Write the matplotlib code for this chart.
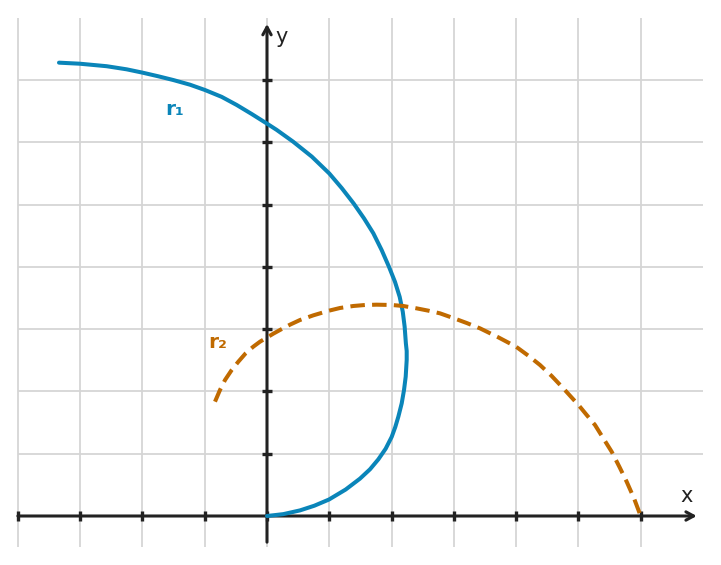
import matplotlib
matplotlib.use("Agg")
import matplotlib.pyplot as plt

# Kurve r1 (durchgezogen)
r1_x = [-3.34, -3.003, -2.574, -2.253, -1.996, -1.745, -1.504, -1.236, -0.996,
        -0.728, -0.487, -0.246, 0.0, 0.155, 0.42, 0.72, 1.0, 1.2, 1.39, 1.557,
        1.707, 1.841, 1.959, 2.055, 2.13, 2.18, 2.21, 2.23, 2.243, 2.243, 2.227,
        2.20, 2.163, 2.109, 2.06, 2.002, 1.905, 1.788, 1.654, 1.493, 1.263,
        0.996, 0.76, 0.53, 0.262, 0.0]
r1_y = [7.279, 7.262, 7.222, 7.172, 7.118, 7.06, 7.0, 6.925, 6.84,
        6.73, 6.60, 6.455, 6.30, 6.20, 6.01, 5.77, 5.50, 5.265, 5.02, 4.78,
        4.54, 4.27, 4.00, 3.76, 3.52, 3.28, 3.04, 2.77, 2.65, 2.505, 2.237,
        2.023, 1.809, 1.595, 1.43, 1.27, 1.08, 0.91, 0.75, 0.60, 0.425,
        0.265, 0.165, 0.09, 0.03, 0.0]

# Kurve r2 (gestrichelt)
r2_x = [-0.835, -0.755, -0.674, -0.567, -0.46, -0.343, -0.22, -0.112, -0.005,
        0.102, 0.209, 0.369, 0.53, 0.744, 0.996, 1.172, 1.386, 1.574, 1.761,
        2.002, 2.189, 2.403, 2.59, 2.778, 3.003, 3.206, 3.42, 3.714, 3.998,
        4.196, 4.383, 4.571, 4.758, 5.01, 5.133, 5.267, 5.40, 5.534, 5.657,
        5.775, 5.893, 6.0]
r2_y = [1.836, 2.023, 2.184, 2.344, 2.478, 2.612, 2.719, 2.799, 2.863,
        2.928, 2.987, 3.072, 3.147, 3.222, 3.297, 3.340, 3.372, 3.388, 3.393,
        3.388, 3.372, 3.334, 3.297, 3.254, 3.174, 3.099, 3.013, 2.869, 2.719,
        2.574, 2.425, 2.248, 2.050, 1.772, 1.622, 1.461, 1.247, 1.033, 0.792,
        0.551, 0.284, 0.0]

x_ticks = list(range(-4, 7))
y_ticks = list(range(1, 8))

blau = "#0a85b9"
orange = "#c06a00"
dunkel = "#222222"

fig = plt.figure(figsize=(7.21, 5.65), dpi=100)
ax = fig.add_axes([0, 0, 1, 1])
s = 62.28
ax.set_xlim(-267 / s, (721 - 267) / s)
ax.set_ylim((516 - 565) / s, 516 / s)
ax.axis("off")

# Gitter
ax.vlines(x_ticks, -0.5, 8.0, colors="#d5d5d5", lw=1.3, zorder=1)
ax.hlines(y_ticks, -4, 7, colors="#d5d5d5", lw=1.3, zorder=1)

# Achsen mit Pfeilen
pfeil = dict(arrowstyle="->,head_length=0.55,head_width=0.3", lw=2.2,
             color=dunkel, shrinkA=0, shrinkB=0)
ax.annotate("", xy=(6.9, 0), xytext=(-4, 0), arrowprops=pfeil, zorder=2)
ax.annotate("", xy=(0, 7.9), xytext=(0, -0.42), arrowprops=pfeil, zorder=2)

# Teilstriche
ax.plot(x_ticks, [0] * len(x_ticks), ls="none", marker="|", ms=6.5, mew=2.4,
        color=dunkel, zorder=2)
ax.plot([0] * len(y_ticks), y_ticks, ls="none", marker="_", ms=6.5, mew=2.4,
        color=dunkel, zorder=2)

# Kurven
ax.plot(r1_x, r1_y, color=blau, lw=2.9, solid_capstyle="round",
        solid_joinstyle="round", zorder=3)
ax.plot(r2_x, r2_y, color=orange, lw=2.9, dashes=(3.6, 1.8),
        dash_capstyle="butt", zorder=4)

# Beschriftungen
ax.text(-1.49, 6.52, "r₁", color=blau, fontsize=14.5, fontweight="bold",
        ha="center", va="center")
ax.text(-0.79, 2.78, "r₂", color=orange, fontsize=14.5, fontweight="bold",
        ha="center", va="center")
ax.text(6.74, 0.32, "x", color=dunkel, fontsize=15, ha="center", va="center")
ax.text(0.24, 7.69, "y", color=dunkel, fontsize=15, ha="center", va="center")

fig.savefig("out.png", dpi=100)
